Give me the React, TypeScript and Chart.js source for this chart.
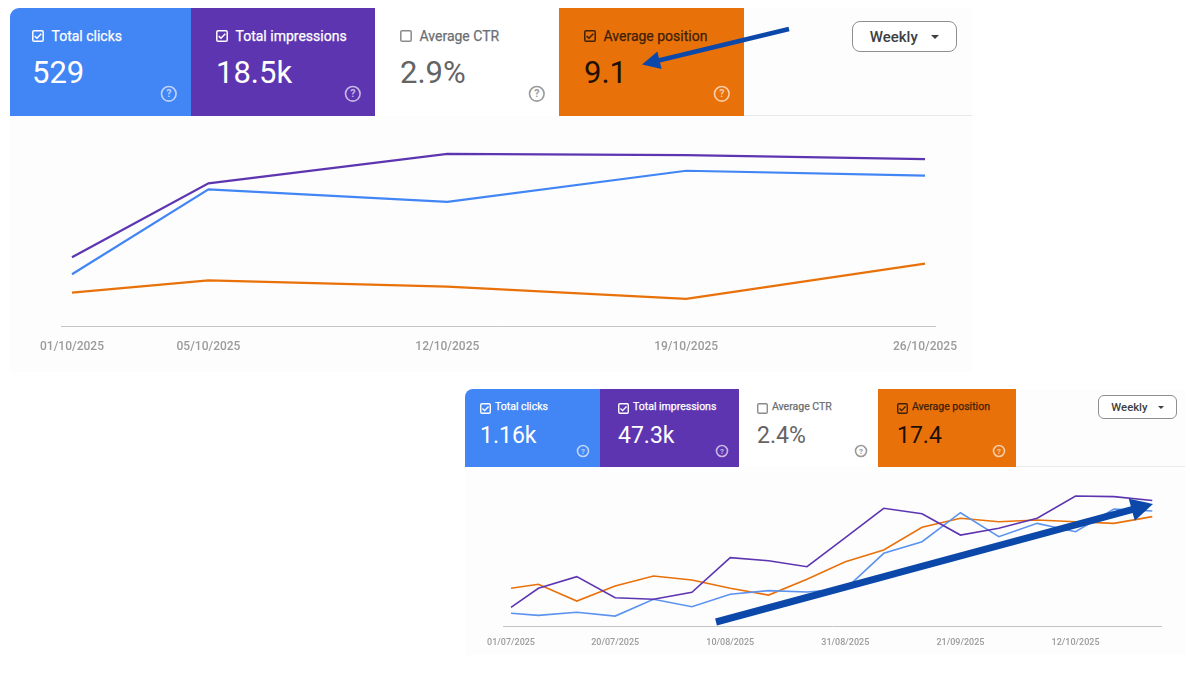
import React, { useEffect, useRef } from 'react';
import { Chart, registerables } from 'chart.js';

Chart.register(...registerables);

// ---------- DATA ----------
// Top report: October 2025, weekly points (days from 01/10/2025)
const topDays = [0, 4, 11, 18, 25];
const topTickLabels = ['01/10/2025', '05/10/2025', '12/10/2025', '19/10/2025', '26/10/2025'];
// relative height of each line on the (unlabelled) chart, 0–100
const topClicks = [26.4, 69.7, 63.3, 79.2, 76.7];
const topImpressions = [35.1, 72.8, 87.8, 87.2, 85.1];
const topPosition = [17.0, 23.3, 20.1, 13.8, 31.8];

// Bottom report: July – October 2025, weekly points (days from 01/07/2025)
const bottomDays = [0, 5, 12, 19, 26, 33, 40, 47, 54, 61, 68, 75, 82, 89, 96, 103, 110, 117];
const bottomTickDays = [0, 19, 40, 61, 82, 103];
const bottomTickLabels = ['01/07/2025', '20/07/2025', '10/08/2025', '31/08/2025', '21/09/2025', '12/10/2025'];
const bottomClicks = [8.7, 7.3, 9.4, 6.8, 18.3, 13.2, 21.7, 24.2, 23.3, 25.3, 49.8, 57.7, 77.6, 61.2, 70.3, 64.6, 80.1, 78.8];
const bottomImpressions = [12.8, 25.8, 33.8, 19.4, 18.3, 23.1, 46.8, 44.7, 40.6, 60.6, 80.6, 76.9, 62.3, 66.9, 73.8, 89.0, 88.6, 86.0];
const bottomPosition = [25.8, 28.6, 17.1, 27.4, 34.2, 31.5, 25.8, 21.2, 32.0, 44.0, 52.1, 67.6, 73.8, 71.4, 72.6, 71.4, 70.3, 74.9];

const metricNames = ['Total clicks', 'Total impressions', 'Average CTR', 'Average position'];
const topMetricValues = ['529', '18.5k', '2.9%', '9.1'];
const bottomMetricValues = ['1.16k', '47.3k', '2.4%', '17.4'];
const metricChecked = [true, true, false, true];
const periodLabel = 'Weekly';

// ---------- STYLES ----------
const BLUE = '#4285f4';
const PURPLE = '#5e35b1';
const ORANGE = '#e8710a';
const ARROW = '#0b48a9';
const FONT = 'Roboto, "Open Sans", sans-serif';

const cardStyles = [
  { bg: BLUE, label: '#ffffff', value: '#ffffff', box: '#ffffff', help: 'rgba(255,255,255,0.65)' },
  { bg: PURPLE, label: '#ffffff', value: '#ffffff', box: '#ffffff', help: 'rgba(255,255,255,0.65)' },
  { bg: '#ffffff', label: '#6b6f73', value: '#646464', box: '#8a8a8a', help: '#9a9a9a' },
  { bg: ORANGE, label: '#3e2106', value: '#1f1003', box: '#3e2106', help: 'rgba(255,255,255,0.65)' },
];

type PanelLayout = {
  cardLefts: number[];
  cardWidths: number[];
  pads: number[];
  top: number;
  height: number;
  boxTop: number;
  boxSize: number;
  labelGap: number;
  labelSize: number;
  labelBaseline: number;
  valueSize: number;
  valueBaseline: number;
  helpY: number;
  helpR: number;
  helpInset: number;
  radius: number;
};

const topLayout: PanelLayout = {
  cardLefts: [10, 191, 375, 559],
  cardWidths: [181, 184, 184, 185],
  pads: [22, 25, 25, 25],
  top: 8,
  height: 108,
  boxTop: 30,
  boxSize: 12,
  labelGap: 19.5,
  labelSize: 14,
  labelBaseline: 41,
  valueSize: 31,
  valueBaseline: 83.3,
  helpY: 94,
  helpR: 7.3,
  helpInset: 22,
  radius: 9,
};

const bottomLayout: PanelLayout = {
  cardLefts: [465, 600, 739, 878],
  cardWidths: [135, 139, 139, 138],
  pads: [15, 18, 18, 19],
  top: 389,
  height: 78,
  boxTop: 403,
  boxSize: 11,
  labelGap: 15,
  labelSize: 10.5,
  labelBaseline: 410.5,
  valueSize: 23,
  valueBaseline: 443,
  helpY: 451,
  helpR: 5.5,
  helpInset: 17,
  radius: 8,
};

function CheckBox({ x, y, size, color, checked }: { x: number; y: number; size: number; color: string; checked: boolean }) {
  return (
    <svg style={{ position: 'absolute', left: x, top: y }} width={size} height={size} viewBox="0 0 12 12">
      <rect x="0.8" y="0.8" width="10.4" height="10.4" rx="1.3" fill="none" stroke={color} strokeWidth="1.5" />
      {checked && <polyline points="2.7,6.1 5,8.3 9.3,3.8" fill="none" stroke={color} strokeWidth="1.5" />}
    </svg>
  );
}

function HelpIcon({ cx, cy, r, color }: { cx: number; cy: number; r: number; color: string }) {
  const s = 2 * r + 3;
  const c = r + 1.5;
  return (
    <svg style={{ position: 'absolute', left: cx - c, top: cy - c }} width={s} height={s}>
      <circle cx={c} cy={c} r={r} fill="none" stroke={color} strokeWidth={1.6} />
      <text x={c} y={c + r * 0.08} textAnchor="middle" dominantBaseline="middle" fontSize={r * 1.45} fontFamily={FONT} fontWeight={700} fill={color}>?</text>
    </svg>
  );
}

function Cards({ layout, values }: { layout: PanelLayout; values: string[] }) {
  const L = layout;
  return (
    <>
      {metricNames.map((name, i) => {
        const st = cardStyles[i];
        const left = L.cardLefts[i];
        const w = L.cardWidths[i];
        const cx = left + L.pads[i];
        return (
          <React.Fragment key={name}>
            <div
              style={{
                position: 'absolute',
                left,
                top: L.top,
                width: w,
                height: L.height,
                background: st.bg,
                borderTopLeftRadius: i === 0 ? L.radius : 0,
              }}
            />
            <CheckBox x={cx} y={L.boxTop} size={L.boxSize} color={st.box} checked={metricChecked[i]} />
            <div
              style={{
                position: 'absolute',
                left: cx + L.labelGap,
                top: L.labelBaseline - 0.842 * L.labelSize,
                fontFamily: FONT,
                fontSize: L.labelSize,
                lineHeight: `${L.labelSize}px`,
                fontWeight: 400,
                color: st.label,
                whiteSpace: 'nowrap',
                WebkitTextStroke: `0.25px ${st.label}`,
              }}
            >
              {name}
            </div>
            <div
              style={{
                position: 'absolute',
                left: cx,
                top: L.valueBaseline - 0.842 * L.valueSize,
                fontFamily: FONT,
                fontSize: L.valueSize,
                lineHeight: `${L.valueSize}px`,
                fontWeight: 400,
                color: st.value,
                whiteSpace: 'nowrap',
              }}
            >
              {values[i]}
            </div>
            <HelpIcon cx={left + w - L.helpInset} cy={L.helpY} r={L.helpR} color={st.help} />
          </React.Fragment>
        );
      })}
    </>
  );
}

function PeriodButton({ left, top, width, height, fontSize, radius }: { left: number; top: number; width: number; height: number; fontSize: number; radius: number }) {
  const tri = fontSize * 0.3;
  return (
    <div
      style={{
        position: 'absolute',
        left,
        top,
        width,
        height,
        boxSizing: 'border-box',
        border: '1px solid #8f8f8f',
        borderRadius: radius,
        background: '#ffffff',
        display: 'flex',
        alignItems: 'center',
        justifyContent: 'center',
        gap: fontSize * 0.9,
        fontFamily: FONT,
        fontSize,
        fontWeight: 500,
        color: '#3c4043',
      }}
    >
      <span>{periodLabel}</span>
      <span
        style={{
          width: 0,
          height: 0,
          borderLeft: `${tri}px solid transparent`,
          borderRight: `${tri}px solid transparent`,
          borderTop: `${tri}px solid #3c4043`,
        }}
      />
    </div>
  );
}

type Series = { label: string; values: number[]; color: string };

function LineChart(props: {
  left: number;
  top: number;
  width: number;
  height: number;
  days: number[];
  tickDays: number[];
  tickLabels: string[];
  series: Series[];
  xMin: number;
  xMax: number;
  padding: { left: number; right: number; top: number; bottom: number };
  fontSize: number;
  tickPadding: number;
  axisHeight: number;
  lineWidth: number;
}) {
  const ref = useRef<HTMLCanvasElement>(null);
  useEffect(() => {
    const p = props;
    const chart = new Chart(ref.current as HTMLCanvasElement, {
      type: 'line',
      data: {
        datasets: p.series.map((s) => ({
          label: s.label,
          data: p.days.map((d, i) => ({ x: d, y: s.values[i] })),
          borderColor: s.color,
          backgroundColor: s.color,
          borderWidth: p.lineWidth,
          pointRadius: 0,
          tension: 0,
          fill: false,
        })),
      },
      options: {
        animation: false,
        responsive: true,
        maintainAspectRatio: false,
        layout: { padding: p.padding },
        plugins: { legend: { display: false }, tooltip: { enabled: false } },
        scales: {
          x: {
            type: 'linear',
            min: p.xMin,
            max: p.xMax,
            grid: { display: false, drawTicks: false },
            border: { display: true, color: '#c4c4c4', width: 1 },
            afterBuildTicks: (s: any) => {
              s.ticks = p.tickDays.map((v) => ({ value: v }));
            },
            afterFit: (s: any) => {
              s.height = p.axisHeight;
            },
            ticks: {
              autoSkip: false,
              maxRotation: 0,
              padding: p.tickPadding,
              color: '#9b9b9b',
              font: { family: 'Roboto', size: p.fontSize, weight: 500 },
              callback: (_v: any, i: number) => p.tickLabels[i],
            },
          },
          y: { display: false, min: 0, max: 100 },
        },
      } as any,
    });
    return () => chart.destroy();
  }, []);
  return (
    <div style={{ position: 'absolute', left: props.left, top: props.top, width: props.width, height: props.height }}>
      <canvas ref={ref} />
    </div>
  );
}

function Arrow({ x1, y1, x2, y2, width, headLen, headHalf }: { x1: number; y1: number; x2: number; y2: number; width: number; headLen: number; headHalf: number }) {
  const dx = x2 - x1;
  const dy = y2 - y1;
  const len = Math.hypot(dx, dy);
  const ux = dx / len;
  const uy = dy / len;
  const bx = x2 - ux * headLen;
  const by = y2 - uy * headLen;
  const px = -uy * headHalf;
  const py = ux * headHalf;
  return (
    <g>
      <line x1={x1} y1={y1} x2={bx + ux * 2} y2={by + uy * 2} stroke={ARROW} strokeWidth={width} />
      <polygon points={`${x2},${y2} ${bx + px},${by + py} ${bx - px},${by - py}`} fill={ARROW} />
    </g>
  );
}

export default function App() {
  const topSeries: Series[] = [
    { label: 'Total impressions', values: topImpressions, color: PURPLE },
    { label: 'Total clicks', values: topClicks, color: BLUE },
    { label: 'Average position', values: topPosition, color: ORANGE },
  ];
  const bottomSeries: Series[] = [
    { label: 'Total impressions', values: bottomImpressions, color: PURPLE },
    { label: 'Total clicks', values: bottomClicks, color: '#5b93ee' },
    { label: 'Average position', values: bottomPosition, color: ORANGE },
  ];
  return (
    <div style={{ position: 'fixed', left: 0, top: 0, width: 1200, height: 675, background: '#ffffff', overflow: 'hidden' }}>
      {/* panels */}
      <div style={{ position: 'absolute', left: 10, top: 8, width: 962, height: 364, background: '#fdfdfd', borderTopLeftRadius: 9 }} />
      <div style={{ position: 'absolute', left: 465, top: 389, width: 720, height: 266, background: '#fdfdfd', borderTopLeftRadius: 8 }} />
      <div style={{ position: 'absolute', left: 10, top: 115, width: 962, height: 1, background: '#e8e8e8' }} />
      <div style={{ position: 'absolute', left: 465, top: 466, width: 720, height: 1, background: '#eaeaea' }} />

      <Cards layout={topLayout} values={topMetricValues} />
      <Cards layout={bottomLayout} values={bottomMetricValues} />

      <PeriodButton left={852} top={21} width={105} height={31} fontSize={15} radius={8} />
      <PeriodButton left={1098} top={395} width={79} height={24} fontSize={11.3} radius={6} />

      <LineChart
        left={10}
        top={116}
        width={962}
        height={256}
        days={topDays}
        tickDays={topDays}
        tickLabels={topTickLabels}
        series={topSeries}
        xMin={-0.322}
        xMax={25.293}
        padding={{ left: 51, right: 37, top: 14, bottom: 0 }}
        fontSize={12}
        tickPadding={14}
        axisHeight={46}
        lineWidth={2.2}
      />
      <LineChart
        left={463}
        top={467}
        width={722}
        height={188}
        days={bottomDays}
        tickDays={bottomTickDays}
        tickLabels={bottomTickLabels}
        series={bottomSeries}
        xMin={-1.46}
        xMax={118.59}
        padding={{ left: 40, right: 24, top: 13, bottom: 0 }}
        fontSize={9}
        tickPadding={11.3}
        axisHeight={29}
        lineWidth={1.6}
      />

      <svg style={{ position: 'absolute', left: 0, top: 0, pointerEvents: 'none' }} width={1200} height={675}>
        <Arrow x1={789} y1={29} x2={642} y2={64.5} width={4.5} headLen={18} headHalf={9} />
        <Arrow x1={716} y1={622} x2={1153} y2={504} width={7} headLen={22} headHalf={11.5} />
      </svg>
    </div>
  );
}
